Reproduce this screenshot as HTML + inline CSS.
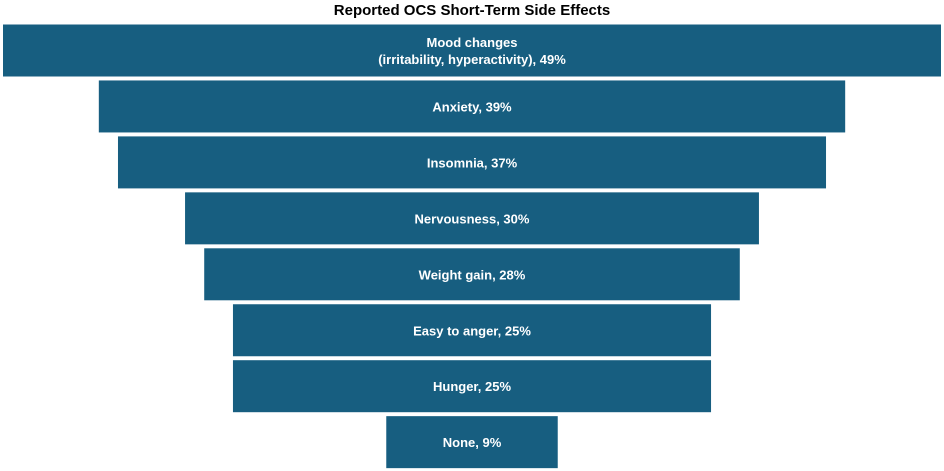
<!DOCTYPE html>
<html><head><meta charset="utf-8"><style>
html,body{margin:0;padding:0;background:#fff;}
svg{display:block;font-family:"Liberation Sans",Arial,sans-serif;}
</style></head><body>
<svg id="chart" width="944" height="471">
<text x="472" y="15" text-anchor="middle" font-size="15" font-weight="bold" fill="#000">Reported OCS Short-Term Side Effects</text>
</svg>
<script>
const categories = ["Mood changes\n(irritability, hyperactivity)", "Anxiety", "Insomnia", "Nervousness", "Weight gain", "Easy to anger", "Hunger", "None"];
const values = [49, 39, 37, 30, 28, 25, 25, 9];
const svg = document.getElementById('chart');
const NS = 'http://www.w3.org/2000/svg';
const cx = 472, maxW = 939, top0 = 24, pitch = 55.95, barH = 53;
const maxV = Math.max(...values);
const xw = v => v / maxV * maxW;
values.forEach((v, i) => {
  const w = xw(v), y = top0 + i * pitch;
  const r = document.createElementNS(NS, 'rect');
  r.setAttribute('x', cx - w / 2); r.setAttribute('y', y);
  r.setAttribute('width', w); r.setAttribute('height', barH);
  r.setAttribute('fill', '#175e80');
  r.setAttribute('stroke', '#fff'); r.setAttribute('stroke-width', '1');
  
  
  svg.appendChild(r);
  const lines = (categories[i] + ', ' + v + '%').split('\n');
  const t = document.createElementNS(NS, 'text');
  t.setAttribute('x', cx); t.setAttribute('text-anchor', 'middle');
  t.setAttribute('font-size', '13'); t.setAttribute('font-weight', 'bold'); t.setAttribute('fill', '#fff');
  
  
  const mid = y + barH / 2;
  lines.forEach((ln, j) => {
    const ts = document.createElementNS(NS, 'tspan');
    ts.setAttribute('x', cx);
    ts.setAttribute('y', mid + 5 + (j - (lines.length - 1) / 2) * 17);
    ts.textContent = ln;
    t.appendChild(ts);
  });
  svg.appendChild(t);
});
</script>
</body></html>
